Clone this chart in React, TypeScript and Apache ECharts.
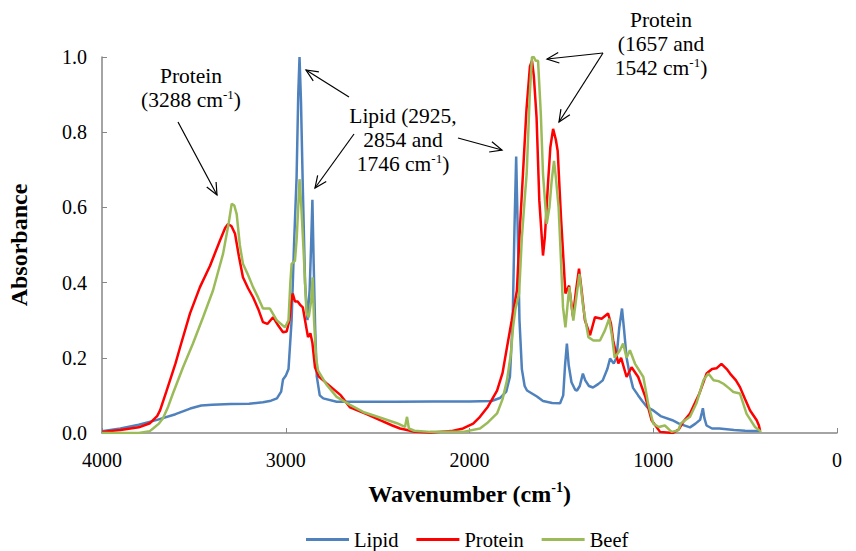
import React, { useEffect, useRef } from "react";
import * as echarts from "echarts";

const seriesNames = ["Lipid", "Protein", "Beef"];
const seriesColors = ["#4F81BD", "#FF0000", "#9BBB59"];
const xTicks = [4000, 3000, 2000, 1000, 0];

const lipid: number[][] = [
  [4000,0.005],[3900,0.012],[3800,0.022],[3700,0.035],[3600,0.05],[3520,0.065],[3460,0.073],[3400,0.075],[3300,0.077],[3200,0.078],[3124,0.082],[3080,0.086],[3048,0.092],[3025,0.11],[3015,0.142],[3000,0.152],[2985,0.17],[2968,0.3],[2955,0.5],[2941,0.68],[2932,0.9],[2925,1.0],[2917,0.88],[2907,0.65],[2895,0.4],[2882,0.3],[2870,0.38],[2862,0.5],[2855,0.62],[2848,0.45],[2840,0.28],[2831,0.15],[2815,0.1],[2796,0.092],[2723,0.083],[2600,0.083],[2400,0.083],[2200,0.084],[2000,0.084],[1880,0.085],[1834,0.093],[1800,0.11],[1780,0.15],[1765,0.3],[1755,0.55],[1746,0.735],[1738,0.55],[1728,0.3],[1715,0.17],[1700,0.125],[1687,0.113],[1633,0.097],[1600,0.085],[1550,0.08],[1507,0.079],[1490,0.1],[1480,0.18],[1470,0.238],[1460,0.18],[1445,0.135],[1425,0.115],[1415,0.113],[1400,0.125],[1383,0.158],[1370,0.14],[1350,0.125],[1328,0.121],[1300,0.13],[1275,0.14],[1250,0.17],[1235,0.198],[1215,0.185],[1200,0.2],[1185,0.28],[1170,0.331],[1158,0.27],[1145,0.2],[1130,0.16],[1110,0.12],[1082,0.1],[1060,0.085],[1034,0.069],[1000,0.06],[960,0.045],[896,0.034],[860,0.025],[800,0.015],[770,0.025],[745,0.035],[735,0.055],[730,0.066],[722,0.04],[710,0.02],[680,0.012],[640,0.012],[600,0.01],[560,0.008],[500,0.006],[460,0.005],[420,0.005]
];

const protein: number[][] = [
  [4000,0.003],[3900,0.008],[3800,0.015],[3739,0.026],[3700,0.045],[3684,0.06],[3650,0.11],[3630,0.14],[3600,0.185],[3575,0.228],[3521,0.318],[3467,0.388],[3412,0.445],[3358,0.512],[3330,0.545],[3314,0.556],[3295,0.55],[3276,0.53],[3255,0.47],[3233,0.414],[3205,0.385],[3178,0.361],[3150,0.33],[3124,0.295],[3100,0.29],[3069,0.308],[3040,0.285],[3015,0.268],[2995,0.27],[2980,0.3],[2970,0.35],[2962,0.371],[2950,0.35],[2935,0.35],[2920,0.34],[2907,0.334],[2895,0.3],[2879,0.255],[2866,0.265],[2855,0.24],[2841,0.175],[2820,0.15],[2777,0.132],[2700,0.1],[2650,0.068],[2560,0.05],[2487,0.034],[2420,0.02],[2378,0.012],[2340,0.008],[2300,0.003],[2215,0.001],[2100,0.005],[2035,0.012],[1980,0.025],[1943,0.043],[1900,0.07],[1850,0.113],[1820,0.16],[1796,0.228],[1770,0.3],[1742,0.379],[1725,0.55],[1709,0.69],[1690,0.86],[1671,0.975],[1660,0.99],[1650,0.95],[1635,0.839],[1620,0.618],[1600,0.472],[1590,0.52],[1573,0.662],[1560,0.76],[1545,0.809],[1530,0.78],[1520,0.75],[1502,0.573],[1478,0.371],[1458,0.392],[1437,0.31],[1420,0.38],[1404,0.437],[1390,0.38],[1372,0.3],[1344,0.26],[1317,0.308],[1281,0.304],[1246,0.318],[1230,0.29],[1218,0.246],[1190,0.185],[1175,0.2],[1145,0.149],[1118,0.175],[1082,0.149],[1043,0.096],[1009,0.034],[963,0.003],[893,0.0],[860,0.01],[838,0.029],[800,0.052],[749,0.105],[710,0.158],[680,0.17],[656,0.172],[629,0.184],[600,0.17],[582,0.158],[550,0.14],[528,0.122],[500,0.09],[473,0.06],[437,0.034],[425,0.02],[419,0.007]
];

const beef: number[][] = [
  [4000,0.0],[3800,0.0],[3740,0.005],[3722,0.012],[3690,0.025],[3668,0.039],[3640,0.07],[3614,0.105],[3559,0.175],[3505,0.238],[3450,0.308],[3396,0.379],[3341,0.477],[3310,0.56],[3294,0.61],[3280,0.605],[3267,0.582],[3250,0.5],[3233,0.45],[3205,0.42],[3178,0.388],[3150,0.36],[3124,0.331],[3086,0.331],[3048,0.299],[3004,0.281],[2985,0.3],[2975,0.4],[2968,0.45],[2950,0.458],[2940,0.52],[2925,0.675],[2915,0.6],[2903,0.485],[2887,0.318],[2875,0.308],[2862,0.35],[2854,0.414],[2846,0.3],[2835,0.2],[2824,0.166],[2780,0.13],[2723,0.096],[2650,0.075],[2579,0.056],[2480,0.04],[2395,0.026],[2351,0.016],[2340,0.043],[2330,0.012],[2300,0.006],[2215,0.003],[2035,0.003],[1943,0.012],[1900,0.028],[1850,0.052],[1820,0.09],[1796,0.14],[1775,0.21],[1763,0.281],[1750,0.33],[1743,0.344],[1730,0.371],[1715,0.52],[1700,0.62],[1689,0.689],[1672,0.9],[1660,1.0],[1650,1.0],[1640,0.99],[1627,0.99],[1612,0.85],[1600,0.689],[1580,0.556],[1565,0.6],[1553,0.67],[1540,0.724],[1530,0.68],[1515,0.6],[1507,0.512],[1491,0.334],[1478,0.281],[1457,0.388],[1435,0.299],[1402,0.423],[1381,0.334],[1353,0.255],[1326,0.246],[1290,0.246],[1263,0.273],[1240,0.304],[1225,0.26],[1210,0.2],[1181,0.22],[1164,0.238],[1145,0.2],[1127,0.22],[1099,0.184],[1054,0.149],[1028,0.079],[1000,0.025],[970,0.016],[937,0.02],[900,0.003],[864,0.007],[849,0.026],[800,0.043],[765,0.079],[727,0.14],[700,0.158],[672,0.14],[645,0.138],[618,0.131],[590,0.12],[564,0.109],[528,0.105],[492,0.051],[446,0.016],[412,0.003]
];

const annotations = [
  { text: "Protein\n(3288 cm{sup|-1})", x: 191, y: 64 },
  { text: "Lipid (2925,\n2854 and\n1746 cm{sup|-1})", x: 403, y: 104 },
  { text: "Protein\n(1657 and\n1542 cm{sup|-1})", x: 661, y: 8 },
];

const arrows = [
  [178, 122, 217, 195],
  [349, 97, 306, 70],
  [354, 134, 315, 188],
  [458, 138, 502, 150],
  [603, 53, 547, 59],
  [603, 53, 559, 122],
];

const FONT = "Liberation Serif";

function arrowGraphic(a: number[]) {
  const [x1, y1, x2, y2] = a;
  const ang = Math.atan2(y2 - y1, x2 - x1);
  const len = 13;
  const spread = 0.42;
  const p1 = [x2 - len * Math.cos(ang - spread), y2 - len * Math.sin(ang - spread)];
  const p2 = [x2 - len * Math.cos(ang + spread), y2 - len * Math.sin(ang + spread)];
  return {
    type: "group",
    children: [
      { type: "line", shape: { x1, y1, x2, y2 }, style: { stroke: "#000", lineWidth: 1.2 } },
      { type: "polyline", shape: { points: [p1, [x2, y2], p2] }, style: { stroke: "#000", lineWidth: 1.2, fill: null } },
    ],
  };
}

export default function App() {
  const ref = useRef<HTMLDivElement>(null);
  useEffect(() => {
    document.body.style.margin = "0";
    const chart = echarts.init(ref.current!, null, { renderer: "svg" });
    const data = [lipid, protein, beef];
    chart.setOption({
      animation: false,
      backgroundColor: "#fff",
      textStyle: { fontFamily: FONT },
      grid: { left: 102, right: 19, top: 57, bottom: 118, outerBoundsMode: "none", containLabel: false },
      legend: {
        left: 301,
        top: 524,
        itemWidth: 43,
        itemHeight: 3,
        itemGap: 18,
        icon: "rect",
        textStyle: { fontFamily: FONT, fontSize: 20.5, color: "#000" },
        data: seriesNames,
      },
      xAxis: {
        type: "value",
        inverse: true,
        min: 0,
        max: 4000,
        interval: 1000,
        name: "Wavenumber (cm{sup|-1})",
        nameLocation: "middle",
        nameGap: 47,
        nameTextStyle: {
          fontFamily: FONT,
          fontSize: 24,
          fontWeight: "bold",
          color: "#000",
          lineHeight: 28,
          rich: { sup: { fontSize: 14, lineHeight: 14, verticalAlign: "top", fontWeight: "bold", fontFamily: FONT, color: "#000" } },
        },
        axisLine: { lineStyle: { color: "#868686", width: 1.5 } },
        axisTick: { inside: true, length: 5, lineStyle: { color: "#868686" } },
        axisLabel: {
          fontFamily: FONT,
          fontSize: 20,
          color: "#000",
          margin: 17,
          formatter: (v: number) => (xTicks.includes(v) ? String(v) : ""),
        },
        splitLine: { show: false },
      },
      yAxis: {
        type: "value",
        min: 0,
        max: 1,
        interval: 0.2,
        name: "Absorbance",
        nameLocation: "middle",
        nameGap: 71,
        nameRotate: 90,
        nameTextStyle: { fontFamily: FONT, fontSize: 24, fontWeight: "bold", color: "#000" },
        axisLine: { show: true, onZero: false, lineStyle: { color: "#868686", width: 1.5 } },
        axisTick: { show: true, inside: true, length: 5, lineStyle: { color: "#868686" } },
        axisLabel: {
          fontFamily: FONT,
          fontSize: 20,
          color: "#000",
          margin: 15,
          formatter: (v: number) => v.toFixed(1),
        },
        splitLine: { show: false },
      },
      series: seriesNames.map((n, i) => ({
        name: n,
        type: "line",
        data: data[i],
        showSymbol: false,
        symbol: "none",
        color: seriesColors[i],
        lineStyle: { color: seriesColors[i], width: 2.5 },
        z: 2 + i,
      })),
      graphic: [
        ...annotations.map((a) => ({
          type: "text",
          x: a.x,
          y: a.y,
          style: {
            text: a.text,
            align: "center",
            verticalAlign: "top",
            fontFamily: FONT,
            fontSize: 21.5,
            lineHeight: 24,
            fill: "#000",
            rich: { sup: { fontSize: 13, lineHeight: 13, verticalAlign: "top", fontFamily: FONT, fill: "#000" } },
          },
        })),
        ...arrows.map(arrowGraphic),
      ],
    });
    return () => chart.dispose();
  }, []);
  return <div ref={ref} style={{ width: 856, height: 551 }} />;
}
